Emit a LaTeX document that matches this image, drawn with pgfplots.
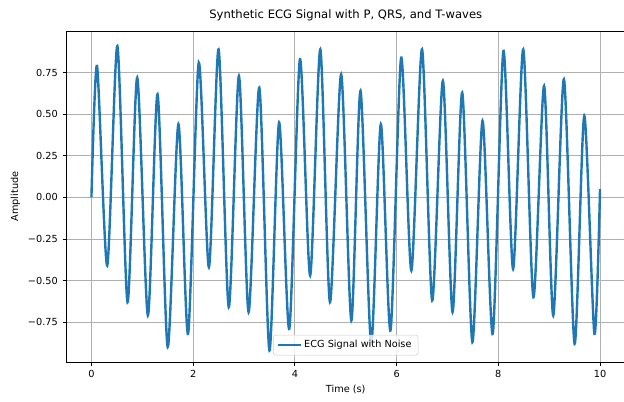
\documentclass[border=0pt]{standalone}
\usepackage{fontspec}
\setmainfont{DejaVu Sans}
\usepackage{pgfplots}
\pgfplotsset{compat=1.18}
\usetikzlibrary{calc}
\definecolor{mplblue}{HTML}{1F77B4}
\definecolor{gridgray}{HTML}{B0B0B0}

% peaks and troughs
\pgfplotstableread{
t v
0.00 0.00
0.11 0.79
0.31 -0.41
0.51 0.91
0.71 -0.63
0.90 0.72
1.11 -0.71
1.30 0.62
1.50 -0.90
1.71 0.44
1.90 -0.82
2.11 0.81
2.31 -0.42
2.50 0.89
2.70 -0.66
2.90 0.73
3.09 -0.69
3.30 0.66
3.50 -0.92
3.69 0.45
3.89 -0.79
4.10 0.83
4.30 -0.47
4.50 0.89
4.69 -0.63
4.91 0.74
5.11 -0.74
5.29 0.64
5.50 -0.88
5.69 0.44
5.88 -0.80
6.09 0.84
6.29 -0.44
6.50 0.89
6.70 -0.62
6.91 0.70
7.10 -0.69
7.29 0.63
7.49 -0.87
7.69 0.46
7.89 -0.82
8.10 0.88
8.29 -0.43
8.49 0.89
8.69 -0.60
8.90 0.67
9.08 -0.71
9.29 0.71
9.50 -0.88
9.69 0.49
9.89 -0.82
10.00 0.05
}\ecg

\begin{document}
\begin{tikzpicture}
\begin{axis}[
  scale only axis,
  width=419.6pt, height=248.3pt,
  xmin=-0.5, xmax=10.5, ymin=-0.99, ymax=1.0,
  axis line style={black, line width=0.7pt},
  xtick={0,2,4,6,8,10},
  ytick={-1,-0.75,-0.5,-0.25,0,0.25,0.5,0.75},
  yticklabels={−1.00,−0.75,−0.50,−0.25,0.00,0.25,0.50,0.75},
  tick align=outside, tick pos=lower,
  major tick length=2.6pt,
  tick style={black, line width=0.6pt},
  /pgf/number format/assume math mode=true,
  tick label style={font=\fontsize{7.3}{8.5}\selectfont},
  label style={font=\fontsize{7.3}{8.5}\selectfont},
  xlabel={Time (s)}, ylabel={Amplitude},
  xlabel style={yshift=1pt},
  ylabel style={yshift=-1pt},
  title={Synthetic ECG Signal with P, QRS, and T-waves},
  title style={font=\fontsize{8.7}{10}\selectfont, yshift=-2pt},
  grid=major,
  grid style={gridgray, line width=0.6pt},
  legend style={at={(0.5,0.02)}, anchor=south, draw=gray!40, rounded corners=2pt,
    font=\fontsize{7.3}{8.5}\selectfont, fill=white, fill opacity=0.8, text opacity=1},
  legend image post style={line width=1.1pt},
  legend cell align=left,
]
\addplot[mplblue, line width=1.8pt, smooth, tension=0.45] table[x=t, y=v] {\ecg};
\addlegendentry{ECG Signal with Noise}
\end{axis}
\pgfresetboundingbox
\path[use as bounding box] ($(current axis.south west)+(-49.5pt,-29.25pt)$) rectangle ($(current axis.north east)+(-1.1pt,23.25pt)$);
\end{tikzpicture}
\end{document}
